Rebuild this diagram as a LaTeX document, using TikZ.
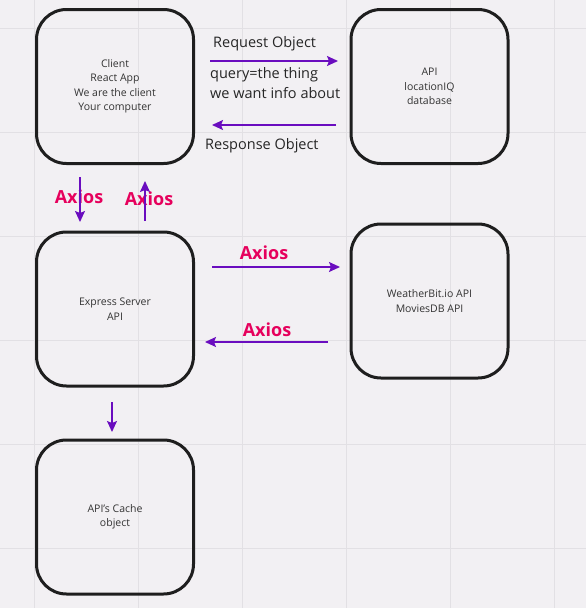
\documentclass[tikz,border=0pt]{standalone}
\usepackage{fontspec}
\setmainfont{Open Sans}
\usetikzlibrary{arrows.meta,positioning}
\definecolor{axioscol}{HTML}{E6005C}
\definecolor{arrowcol}{HTML}{6A0DBF}
\definecolor{boardbg}{HTML}{F2F0F3}
\definecolor{gridcol}{HTML}{E2E0E4}
\definecolor{inkcol}{HTML}{1E1E1E}

\tikzset{
  box/.style={draw=inkcol, line width=3pt, rounded corners=30pt, minimum width=157pt, minimum height=154pt, align=center, font=\fontsize{10.5}{14.5}\selectfont, text=black!80},
  flow/.style={draw=arrowcol, line width=1.4pt, arrows={-Stealth[length=11pt,width=10pt,inset=2pt]}},
  axios/.style={text=axioscol, font=\fontsize{18}{20}\selectfont\bfseries},
  lbl/.style={text=black!85, font=\fontsize{14.5}{20}\selectfont, align=left, inner sep=0pt}
}

\begin{document}
\begin{tikzpicture}[x=1pt,y=-1pt]
	\useasboundingbox[fill=boardbg] (0,0) rectangle (586,608);
	% board grid
	\foreach \g in {34,138,...,554} {
		\draw[gridcol, line width=0.8pt] (\g,0) -- (\g,608);
		\draw[gridcol, line width=0.8pt] (0,\g-6) -- (586,\g-6);
	}
	
	\node[box] (client) at (115,86.5) {Client\\React App\\We are the client\\Your computer};
	\node[box] (api) at (429.5,86.5) {API\\locationIQ\\database};
	\node[box] (server) at (115,309) {Express Server\\API};
	\node[box] (weather) at (429.5,301) {WeatherBit.io API\\MoviesDB API};
	\node[box] (cache) at (115,517) {API's Cache\\object};
	
	\node[lbl, anchor=west] (reqlbl) at (213,44) {Request Object};
	\node[lbl, anchor=west] (query) at (210,83) {query=the thing\\we want info about};
	\node[lbl, anchor=west] (resplbl) at (205,146) {Response Object};
	
	\node[axios] (axdown) at (79,197) {Axios};
	\node[axios] (axup) at (149,199) {Axios};
	\node[axios] (axout) at (264,253) {Axios};
	\node[axios] (axin) at (267,330) {Axios};
	
	\coordinate (reqS) at (210,61);
	\coordinate (reqE) at (338,61);
	\coordinate (respS) at (336,125);
	\coordinate (respE) at (212,125);
	\coordinate (downS) at (80,177);
	\coordinate (downE) at (80,222);
	\coordinate (upS) at (145,221);
	\coordinate (upE) at (145,181);
	\coordinate (outS) at (212,267);
	\coordinate (outE) at (340,267);
	\coordinate (inS) at (328,342);
	\coordinate (inE) at (205,342);
	\coordinate (cacheS) at (112,402);
	\coordinate (cacheE) at (112,432);
	
	\draw[flow] (reqS) -- (reqE);
	\draw[flow] (respS) -- (respE);
	\draw[flow] (downS) -- (downE);
	\draw[flow] (upS) -- (upE);
	\draw[flow] (outS) -- (outE);
	\draw[flow] (inS) -- (inE);
	\draw[flow] (cacheS) -- (cacheE);
\end{tikzpicture}
\end{document}
